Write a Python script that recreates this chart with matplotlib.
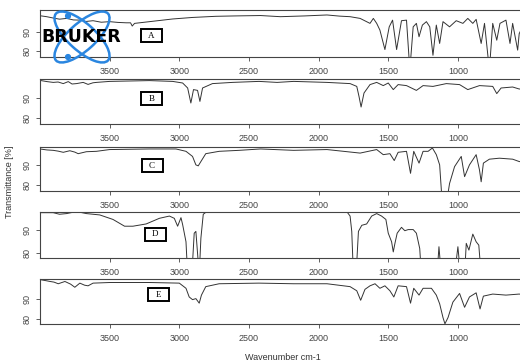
import matplotlib
matplotlib.use("Agg")
import matplotlib.pyplot as plt
from matplotlib.patches import Ellipse, Rectangle, Circle

plt.rcParams['font.family'] = ['Liberation Sans', 'DejaVu Sans']

# spectra: wavenumber (cm-1) and transmittance (%)
wn_a = [4000, 3952, 3905, 3860, 3809, 3760, 3714, 3670, 3619, 3560, 3500, 3440, 3381, 3350, 3338, 3321,
        3214, 3048, 2905, 2738, 2600, 2417, 2274, 2100, 1940, 1850, 1774, 1702, 1631, 1607, 1583, 1560,
        1524, 1493, 1469, 1440, 1405, 1369, 1345, 1321, 1298, 1279, 1255, 1226, 1202, 1179, 1155, 1131,
        1107, 1060, 1012, 964, 929, 893, 869, 833, 809, 774, 750, 721, 698, 655, 626, 607, 571, 560, 540]
t_a = [98.4, 97.9, 97.2, 96.6, 97.0, 96.2, 96.1, 95.4, 95.8, 95.0, 95.3, 94.9, 94.7, 94.7, 93.0, 94.4,
       95.3, 96.7, 97.5, 98.1, 98.3, 98.5, 97.9, 98.3, 98.8, 98.2, 97.9, 97.0, 94.4, 97.0, 94.4, 90.9,
       80.7, 92.6, 96.1, 80.7, 95.8, 96.1, 70, 92.6, 94.4, 87.4, 93.5, 95.3, 92.6, 77.7, 93.5, 83.9,
       95.3, 92.6, 95.8, 94.4, 97.0, 94.4, 96.5, 83.9, 94.4, 70, 94.4, 85.6, 94.4, 96.1, 83.9, 94.4, 80.4, 89, 92]

wn_b = [4000, 3950, 3905, 3870, 3833, 3797, 3770, 3738, 3690, 3655, 3620, 3595, 3500, 3214, 3048, 2976,
        2940, 2917, 2898, 2869, 2852, 2833, 2762, 2619, 2428, 2298, 2179, 1940, 1774, 1726, 1710, 1695,
        1674, 1631, 1583, 1536, 1500, 1464, 1429, 1369, 1298, 1250, 1179, 1083, 988, 929, 845, 750, 721,
        690, 607, 560, 540]
t_b = [98.8, 98.2, 97.8, 98.0, 97.2, 98.2, 97.0, 97.2, 97.8, 96.8, 97.6, 97.8, 98.3, 98.7, 98.3, 97.5,
       95.0, 87.5, 94.2, 93.8, 88.3, 95.0, 97.2, 97.8, 98.3, 97.8, 98.3, 97.8, 97.2, 95.8, 90.8, 85.5,
       92.5, 96.7, 97.8, 96.2, 97.5, 94.2, 96.7, 96.2, 93.8, 96.2, 95.8, 97.2, 96.7, 94.2, 96.2, 95.8, 92.2,
       95.0, 95.5, 94.5, 94.5]

wn_c = [4000, 3950, 3905, 3870, 3833, 3786, 3750, 3726, 3667, 3595, 3500, 3214, 3024, 2952, 2905, 2881,
        2864, 2845, 2810, 2714, 2571, 2417, 2179, 1940, 1702, 1583, 1536, 1488, 1457, 1429, 1369, 1340,
        1317, 1279, 1250, 1214, 1183, 1155, 1131, 1112, 1083, 1060, 1024, 976, 952, 917, 869, 845, 833,
        817, 774, 702, 607, 560, 540]
t_c = [98.1, 97.6, 97.4, 97.0, 96.4, 97.2, 96.5, 95.7, 96.7, 96.9, 97.8, 98.1, 98.1, 96.9, 94.3, 90.0,
       89.5, 91.7, 95.7, 96.9, 97.4, 98.1, 97.4, 97.8, 96.0, 97.8, 95.2, 95.7, 92.2, 96.4, 96.9, 85.7,
       96.9, 90.9, 96.9, 96.9, 98.6, 95.2, 90.0, 70, 70, 80.5, 89.1, 94.3, 84.0, 90.0, 95.2, 87.4, 81.4,
       90.9, 92.9, 93.4, 92.9, 91.7, 91.5]

wn_d = [4000, 3905, 3860, 3809, 3738, 3667, 3571, 3476, 3393, 3333, 3238, 3143, 3071, 3036, 3012, 2988,
        2976, 2952, 2940, 2910, 2893, 2881, 2857, 2845, 2828, 2798, 2619, 2417, 1845, 1798, 1774, 1762,
        1750, 1731, 1714, 1690, 1655, 1619, 1583, 1548, 1517, 1500, 1476, 1464, 1452, 1436, 1405, 1381,
        1357, 1321, 1298, 1274, 1262, 1150, 1136, 1119, 1024, 1000, 981, 952, 940, 921, 893, 869, 850,
        833, 700, 540]
t_d = [97.7, 97.7, 97.0, 97.3, 98.2, 97.3, 96.7, 94.7, 91.7, 91.7, 92.7, 95.2, 96.2, 95.2, 91.7, 95.5,
       92.4, 84.8, 70, 70, 88.6, 89.4, 70, 86.4, 97.0, 98.4, 98.5, 98.6, 98.6, 98.2, 96.2, 89.4,
       70, 70, 89.4, 92.1, 92.7, 96.2, 97.3, 96.2, 94.7, 88.6, 84.8, 80.3, 84.1, 88.6, 91.2, 89.7,
       90.2, 90.2, 88.6, 81.8, 70, 70, 82.6, 70, 70, 82.6, 70, 70, 84.1, 81.1, 88.2, 84.8, 83.3,
       70, 70, 70]

wn_e = [4000, 3950, 3928, 3900, 3869, 3821, 3780, 3750, 3714, 3680, 3655, 3619, 3500, 3214, 3000, 2952,
        2929, 2905, 2881, 2857, 2841, 2810, 2714, 2428, 2179, 1940, 1774, 1726, 1698, 1667, 1631, 1595,
        1560, 1524, 1488, 1460, 1429, 1369, 1340, 1317, 1279, 1250, 1190, 1155, 1131, 1107, 1093, 1071,
        1036, 988, 952, 917, 869, 841, 817, 750, 655, 560, 540]
t_e = [99.2, 98.6, 98.3, 98.0, 97.2, 98.3, 97.0, 95.5, 97.5, 96.5, 96.2, 97.5, 97.8, 97.8, 97.5, 95.0,
       90.8, 89.5, 90.0, 87.8, 91.7, 95.8, 97.2, 97.5, 97.2, 97.2, 95.8, 93.8, 89.2, 94.5, 96.2, 97.2,
       95.0, 96.2, 93.8, 90.8, 96.2, 95.8, 87.8, 95.0, 91.7, 95.0, 95.0, 91.7, 87.5, 80.8, 77.8, 80.8,
       88.3, 92.5, 85.8, 90.8, 92.8, 85.0, 91.2, 92.2, 91.7, 92.2, 92.0]

labels = ['A', 'B', 'C', 'D', 'E']
x_ticks = [3500, 3000, 2500, 2000, 1500, 1000]
y_ticks = [80, 90]

W, H = 520, 363
fig = plt.figure(figsize=(W / 100, H / 100), dpi=100)

# panel layout in pixels: (top, bottom) and y limits
rows = [(10, 57), (79, 124), (147, 191), (212, 258), (279, 324)]
ylims = [(76.8, 101.4), (77, 99.5), (76.7, 99.1), (77.6, 98.0), (77.7, 99.5)]
spectra = [(wn_a, t_a), (wn_b, t_b), (wn_c, t_c), (wn_d, t_d), (wn_e, t_e)]

left_px = 40
width_px = 3600 * 0.1393
for (top, bot), yl, (wn, t) in zip(rows, ylims, spectra):
    ax = fig.add_axes([left_px / W, 1 - bot / H, width_px / W, (bot - top) / H])
    ax.plot(wn, t, color='#333333', linewidth=0.7)
    ax.set_xlim(4000, 400)
    ax.set_ylim(*yl)
    ax.set_xticks(x_ticks)
    ax.set_yticks(y_ticks)
    ax.tick_params(direction='out', length=3, width=0.6, colors='#444444', labelsize=6.5, pad=4)
    ax.tick_params(axis='y', labelrotation=90, pad=3)
    for lb in ax.get_yticklabels():
        lb.set_va('center')
    for s in ax.spines.values():
        s.set_linewidth(0.8)
        s.set_color('#444444')

# overlay in pixel coordinates for logo and panel tags
ov = fig.add_axes([0, 0, 1, 1])
ov.set_xlim(0, W)
ov.set_ylim(H, 0)
ov.axis('off')

blue = '#2a86e0'
ov.add_patch(Ellipse((82, 37), 70, 27, angle=42, fill=False, ec=blue, lw=1.8))
ov.add_patch(Ellipse((82, 37), 70, 27, angle=-42, fill=False, ec=blue, lw=1.8))
ov.add_patch(Circle((68, 16), 2.4, color=blue))
ov.add_patch(Circle((68, 57), 2.4, color=blue))
ov.text(81.5, 36.5, 'BRUKER', ha='center', va='center', fontsize=12.5, fontweight='heavy',
        family='DejaVu Sans', color='black')

tag_pos = [(151, 35.5), (151.5, 98.5), (152, 165), (155.5, 234), (158, 294.5)]
for lab, (cx, cy) in zip(labels, tag_pos):
    ov.add_patch(Rectangle((cx - 10.5, cy - 6.5), 21, 13, fill=True, fc='white', ec='black', lw=1.4))
    ov.text(cx, cy + 0.5, lab, ha='center', va='center', fontsize=6.5, family='Liberation Serif')

fig.text(10 / W, 1 - 182 / H, 'Transmittance [%]', rotation=90, ha='center', va='center',
         fontsize=6.5, color='#333333')
fig.text(283 / W, 1 - 357 / H, 'Wavenumber cm-1', ha='center', va='center', fontsize=6.5,
         color='#333333')

fig.savefig('out.png', dpi=100)
